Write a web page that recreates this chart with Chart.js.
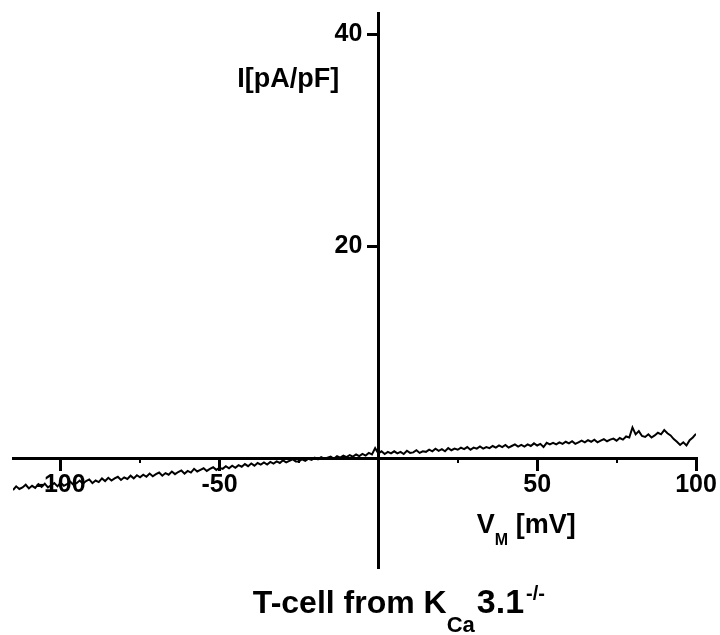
<!DOCTYPE html>
<html lang="en">
<head>
  <meta charset="UTF-8" />
  <title>T-cell from KCa3.1-/- I-V</title>
  <script src="https://cdn.jsdelivr.net/npm/chart.js"></script>
  <style>
    html, body {
      margin: 0;
      padding: 0;
      background: #fff;
    }
    #wrap {
      width: 720px;
      height: 635px;
    }
  </style>
</head>
<body>
  <div id="wrap">
    <canvas id="ivChart" width="720" height="635"></canvas>
  </div>

  <script>
    // membrane voltage [mV], one sample per mV
    const voltage = [
      -115, -114, -113, -112, -111, -110, -109, -108, -107, -106,
      -105, -104, -103, -102, -101, -100, -99, -98, -97, -96,
      -95, -94, -93, -92, -91, -90, -89, -88, -87, -86,
      -85, -84, -83, -82, -81, -80, -79, -78, -77, -76,
      -75, -74, -73, -72, -71, -70, -69, -68, -67, -66,
      -65, -64, -63, -62, -61, -60, -59, -58, -57, -56,
      -55, -54, -53, -52, -51, -50, -49, -48, -47, -46,
      -45, -44, -43, -42, -41, -40, -39, -38, -37, -36,
      -35, -34, -33, -32, -31, -30, -29, -28, -27, -26,
      -25, -24, -23, -22, -21, -20, -19, -18, -17, -16,
      -15, -14, -13, -12, -11, -10, -9, -8, -7, -6,
      -5, -4, -3, -2, -1, 0, 1, 2, 3, 4,
      5, 6, 7, 8, 9, 10, 11, 12, 13, 14,
      15, 16, 17, 18, 19, 20, 21, 22, 23, 24,
      25, 26, 27, 28, 29, 30, 31, 32, 33, 34,
      35, 36, 37, 38, 39, 40, 41, 42, 43, 44,
      45, 46, 47, 48, 49, 50, 51, 52, 53, 54,
      55, 56, 57, 58, 59, 60, 61, 62, 63, 64,
      65, 66, 67, 68, 69, 70, 71, 72, 73, 74,
      75, 76, 77, 78, 79, 80, 81, 82, 83, 84,
      85, 86, 87, 88, 89, 90, 91, 92, 93, 94,
      95, 96, 97, 98, 99, 100
    ];

    // current density [pA/pF]
    const current = [
      -2.95, -2.60, -2.85, -2.70, -2.45, -2.80, -2.55, -2.75, -2.40, -2.65,
      -2.35, -2.70, -2.50, -2.30, -2.60, -2.25, -2.55, -2.40, -2.15, -2.45,
      -2.30, -2.05, -2.35, -2.10, -1.95, -2.30, -2.05, -2.20, -1.85, -2.10,
      -1.80, -2.05, -1.85, -1.70, -2.00, -1.75, -1.90, -1.60, -1.85, -1.55,
      -1.75, -1.50, -1.70, -1.40, -1.65, -1.45, -1.30, -1.60, -1.35, -1.50,
      -1.20, -1.45, -1.25, -1.10, -1.40, -1.15, -1.30, -0.95, -1.20, -1.05,
      -0.90, -1.15, -0.95, -0.80, -1.05, -0.85, -0.95, -0.70, -0.90, -0.65,
      -0.85, -0.60, -0.75, -0.50, -0.70, -0.45, -0.65, -0.40, -0.55, -0.35,
      -0.55, -0.30, -0.45, -0.25, -0.40, -0.15, -0.35, -0.20, -0.05, -0.25,
      -0.25, -0.05, -0.20, 0.00, -0.10, 0.10, -0.05, 0.15, 0.00, 0.10,
      0.20, 0.00, 0.25, 0.10, 0.30, 0.15, 0.35, 0.20, 0.40, 0.25,
      0.45, 0.30, 0.55, 0.40, 1.00, 0.50, 0.70, 0.45, 0.65, 0.50,
      0.70, 0.50, 0.65, 0.45, 0.75, 0.55, 0.60, 0.80, 0.55, 0.70,
      0.65, 0.85, 0.70, 0.95, 0.75, 0.90, 0.70, 1.00, 0.80, 0.95,
      0.85, 1.05, 0.90, 1.10, 0.85, 1.05, 0.95, 1.15, 0.95, 1.10,
      1.00, 1.20, 1.05, 1.25, 1.10, 1.30, 1.05, 1.20, 1.35, 1.15,
      1.30, 1.15, 1.35, 1.20, 1.45, 1.25, 1.40, 1.10, 1.50, 1.35,
      1.50, 1.35, 1.55, 1.40, 1.60, 1.45, 1.65, 1.40, 1.55, 1.70,
      1.55, 1.75, 1.60, 1.80, 1.55, 1.70, 1.85, 1.65, 1.80, 1.90,
      1.70, 1.95, 1.80, 2.10, 2.00, 2.95, 2.30, 2.60, 2.15, 2.05,
      2.30, 2.00, 2.20, 2.45, 2.30, 2.70, 2.40, 2.20, 1.85, 1.60,
      1.30, 1.55, 1.25, 1.75, 2.00, 2.35
    ];

    const xTicks = [-100, -50, 0, 50, 100];
    const xMinorTicks = [-75, -25, 25, 75];
    const yTicks = [0, 20, 40];

    const FONT = '"Liberation Sans", Arial, sans-serif';

    // draws a row of text pieces (normal / sub / superscript) on one baseline
    function drawRuns(ctx, runs, x, y, align) {
      let total = 0;
      runs.forEach(r => {
        ctx.font = 'bold ' + r.size + 'px ' + FONT;
        r.w = ctx.measureText(r.text).width + (r.gap || 0);
        total += r.w;
      });
      let cx = align === 'center' ? x - total / 2 : (align === 'right' ? x - total : x);
      runs.forEach(r => {
        ctx.font = 'bold ' + r.size + 'px ' + FONT;
        ctx.fillText(r.text, cx, y + (r.dy || 0));
        cx += r.w;
      });
    }

    const labelsPlugin = {
      id: 'ivLabels',
      afterDraw(chart) {
        const ctx = chart.ctx;
        const xs = chart.scales.x;
        const ys = chart.scales.y;
        const x0 = xs.getPixelForValue(0);
        ctx.save();
        ctx.fillStyle = '#000';

        // y tick labels, left of the tick marks
        ctx.font = 'bold 25px ' + FONT;
        ctx.textAlign = 'right';
        ctx.textBaseline = 'middle';
        ys.ticks.forEach(t => {
          if (t.value === 0) return;
          ctx.fillText(String(t.value), x0 - 16, ys.getPixelForValue(t.value));
        });

        ctx.textAlign = 'left';
        ctx.textBaseline = 'alphabetic';

        // y axis label, left of the axis near the top
        drawRuns(ctx, [{ text: 'I[pA/pF]', size: 27 }],
          x0 - 39, ys.getPixelForValue(35), 'right');

        // x axis label, under the positive half
        drawRuns(ctx, [
          { text: 'V', size: 27 },
          { text: 'M', size: 16, dy: 12 },
          { text: ' [mV]', size: 27 }
        ], xs.getPixelForValue(31), ys.getPixelForValue(-7), 'left');

        // title under the plot
        drawRuns(ctx, [
          { text: 'T-cell from K', size: 32 },
          { text: 'Ca', size: 22, dy: 19, gap: 2 },
          { text: '3.1', size: 34, gap: 2 },
          { text: '-/-', size: 20, dy: -13 }
        ], xs.getPixelForValue(-39.5), chart.chartArea.bottom + 46, 'left');

        ctx.restore();
      }
    };

    const hideZero = c => (c.tick && c.tick.value === 0) ? 'rgba(0,0,0,0)' : '#000';

    const ctx = document.getElementById('ivChart').getContext('2d');
    new Chart(ctx, {
      type: 'line',
      data: {
        datasets: [{
          data: voltage.map((v, i) => ({ x: v, y: current[i] })),
          borderColor: '#000',
          borderWidth: 2,
          pointRadius: 0,
          fill: false,
          tension: 0
        }]
      },
      options: {
        responsive: false,
        animation: false,
        devicePixelRatio: 1,
        layout: { padding: { left: 13, right: 24, top: 13, bottom: 68 } },
        plugins: {
          legend: { display: false },
          tooltip: { enabled: false },
          title: { display: false }
        },
        scales: {
          x: {
            type: 'linear',
            min: -115,
            max: 100,
            position: { y: 0 },
            afterBuildTicks: s => { s.ticks = xTicks.map(v => ({ value: v })); },
            afterFit: s => { s.height = 0; },
            border: { color: '#000', width: 3 },
            grid: {
              drawOnChartArea: false,
              drawTicks: true,
              tickLength: 11,
              lineWidth: 3,
              color: hideZero
            },
            ticks: {
              color: '#000',
              font: { family: FONT, size: 25, weight: 'bold' },
              padding: 0,
              maxRotation: 0,
              autoSkip: false,
              callback: v => v === 0 ? '' : v
            }
          },
          xm: {
            type: 'linear',
            axis: 'x',
            min: -115,
            max: 100,
            position: { y: 0 },
            afterBuildTicks: s => { s.ticks = xMinorTicks.map(v => ({ value: v })); },
            afterFit: s => { s.height = 0; },
            border: { display: false },
            grid: {
              drawOnChartArea: false,
              drawTicks: true,
              tickLength: 4,
              lineWidth: 2,
              color: '#000'
            },
            ticks: { display: false }
          },
          y: {
            type: 'linear',
            min: -10.2,
            max: 42,
            position: { x: 0 },
            afterBuildTicks: s => { s.ticks = yTicks.map(v => ({ value: v })); },
            afterFit: s => { s.width = 0; },
            border: { color: '#000', width: 3 },
            grid: {
              drawOnChartArea: false,
              drawTicks: true,
              tickLength: 10,
              lineWidth: 3,
              color: hideZero
            },
            ticks: { display: false }
          }
        }
      },
      plugins: [labelsPlugin]
    });
  </script>
</body>
</html>
